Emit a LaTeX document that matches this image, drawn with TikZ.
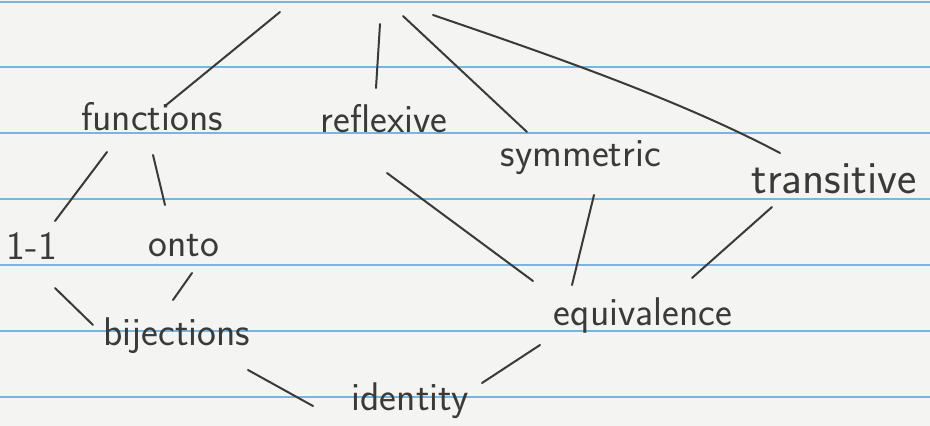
\documentclass[tikz,border=0pt]{standalone}
\usetikzlibrary{calc}
\definecolor{paper}{RGB}{244,244,242}
\definecolor{rulecol}{RGB}{120,182,222}
\definecolor{ink}{RGB}{58,58,58}
\begin{document}
\begin{tikzpicture}[x=1pt,y=-1pt,
  word/.style={font=\sffamily\fontsize{40}{44}\selectfont, text=ink, inner sep=0pt, anchor=base},
  bigword/.style={word, font=\sffamily\fontsize{46}{50}\selectfont},
  link/.style={draw=ink, line width=2pt, line cap=round},
  ruled/.style={draw=rulecol, line width=1.6pt}]
\useasboundingbox (0,0) rectangle (930,426);
\fill[paper] (0,0) rectangle (930,426);
\foreach \y in {2,67,133,199,265,331,397} \draw[ruled] (0,\y) -- (930,\y);
% nodes
\node[word] (fun) at (152,130) {functions};
\node[word] (ref) at (384,132) {reflexive};
\node[word] (sym) at (581,166) {symmetric};
\node[bigword] (tra) at (834,193) {transitive};
\node[word] (one) at (32,259) {1-1};
\node[word] (onto) at (184,256) {onto};
\node[word] (bij) at (177,345) {bijections};
\node[word] (eq) at (643,325) {equivalence};
\node[word] (id) at (410,410) {identity};
% free ends at top (towards a heading above the page)
\coordinate (t1) at (280,12);
\coordinate (t2) at (380,24);
\coordinate (t3) at (403,16);
\coordinate (t4) at (433,15);
% connectors
\draw[link] ($(fun.base)+(13,-24)$) -- (t1);
\draw[link] ($(ref.base)+(-8,-44)$) -- (t2);
\draw[link] (t3) -- ($(sym.base)+(-54,-34)$);
\draw[link] (t4) .. controls (550,55) and (680,100) .. ($(tra.base)+(-54,-40)$);
\draw[link] ($(fun.base)+(-45,22)$) -- ($(one.base)+(23,-38)$);
\draw[link] ($(fun.base)+(1,25)$) -- ($(onto.base)+(-19,-51)$);
\draw[link] ($(one.base)+(23,29)$) -- ($(bij.base)+(-84,-20)$);
\draw[link] ($(onto.base)+(8,17)$) -- ($(bij.base)+(-4,-45)$);
\draw[link] ($(bij.base)+(71,25)$) -- ($(id.base)+(-97,-4)$);
\draw[link] ($(ref.base)+(3,41)$) -- ($(eq.base)+(-110,-44)$);
\draw[link] ($(sym.base)+(13,29)$) -- ($(eq.base)+(-71,-40)$);
\draw[link] ($(tra.base)+(-62,14)$) -- ($(eq.base)+(49,-47)$);
\draw[link] ($(eq.base)+(-103,20)$) -- ($(id.base)+(72,-27)$);
\end{tikzpicture}
\end{document}
